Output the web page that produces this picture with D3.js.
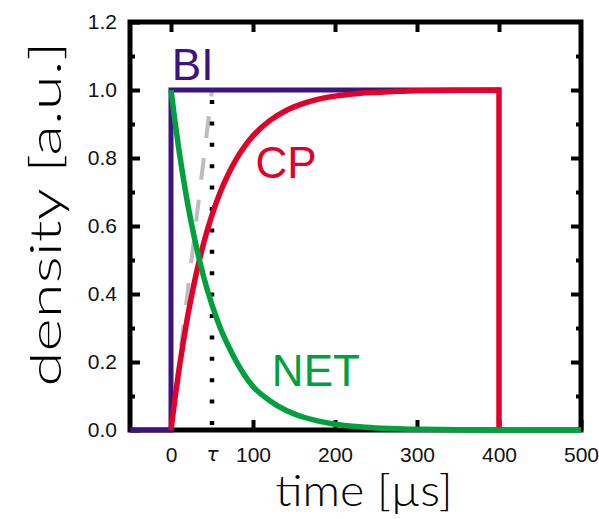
<!DOCTYPE html>
<html>
<head>
<meta charset="utf-8">
<script src="https://cdn.jsdelivr.net/npm/d3@7"></script>
<style>
  html, body { margin: 0; padding: 0; background: #fff; }
  svg { display: block; }
</style>
</head>
<body>
<svg id="chart" width="599" height="519"></svg>
<script>
// ---- data ----
const tau = 50;
const biTime  = [-50, 0, 0, 400];
const biValue = [0, 0, 1, 1];

const curveTime = [0, 5, 10, 15, 20, 25, 30, 35, 40, 50, 60, 70, 80, 90, 100, 120, 140, 160, 180, 200, 225, 250, 275, 300, 350, 400];
const cpValue   = [0, 0.095, 0.181, 0.259, 0.330, 0.393, 0.451, 0.503, 0.551, 0.632, 0.699, 0.753, 0.798, 0.835, 0.865, 0.909, 0.939, 0.959, 0.973, 0.982, 0.989, 0.993, 0.996, 0.998, 0.999, 1.0];
const cpDropTime  = [400, 400];
const cpDropValue = [1.0, 0];

const netTime  = [0, 5, 10, 15, 20, 25, 30, 35, 40, 50, 60, 70, 80, 90, 100, 120, 140, 160, 180, 200, 225, 250, 275, 300, 350, 400, 450, 500];
const netValue = [1, 0.905, 0.819, 0.741, 0.670, 0.607, 0.549, 0.497, 0.449, 0.368, 0.301, 0.247, 0.200, 0.160, 0.128, 0.087, 0.058, 0.039, 0.026, 0.017, 0.010, 0.006, 0.004, 0.002, 0.001, 0, 0, 0];

const tangentTime  = [0, tau];
const tangentValue = [0, 1];
const tauLineValue = [0, 1];

const xMajorTicks = [0, 100, 200, 300, 400, 500];
const xTopTicks   = [0, 100, 200, 300, 400];
const xLabelTicks = [0, tau, 100, 200, 300, 400, 500];
const yMajorTicks = [0, 0.2, 0.4, 0.6, 0.8, 1.0, 1.2];
const yMinorTicks = [0.1, 0.3, 0.5, 0.7, 0.9, 1.1];

const seriesLabels = [
  { name: "BI",  t: 1,   v: 1.03, color: "#3c1480" },
  { name: "CP",  t: 103, v: 0.74, color: "#e2002b" },
  { name: "NET", t: 123, v: 0.13, color: "#00a03c" }
];

// ---- layout ----
const svg = d3.select("#chart");
const x = d3.scaleLinear().domain([-50, 500]).range([130, 581]);
const y = d3.scaleLinear().domain([0, 1.2]).range([430, 22]);

const tickFont = "'Liberation Sans Narrow', 'Liberation Sans', Arial, sans-serif";

// frame
svg.append("rect")
  .attr("x", x(-50)).attr("y", y(1.2))
  .attr("width", x(500) - x(-50)).attr("height", y(0) - y(1.2))
  .attr("fill", "none").attr("stroke", "#000").attr("stroke-width", 5);

function styleTicks(g, w) {
  g.select(".domain").remove();
  g.selectAll(".tick line").attr("stroke", "#000").attr("stroke-width", w);
}

// bottom major ticks (inward)
svg.append("g").attr("transform", `translate(0,${y(0)})`)
  .call(d3.axisBottom(x).tickValues(xMajorTicks).tickSize(-10).tickFormat(""))
  .call(g => styleTicks(g, 4));
// bottom labels
svg.append("g").attr("transform", `translate(0,${y(0)})`)
  .call(d3.axisBottom(x).tickValues(xLabelTicks).tickSize(0).tickPadding(17)
        .tickFormat(d => d === tau ? "τ" : d3.format("d")(d)))
  .call(g => {
    g.select(".domain").remove();
    g.selectAll(".tick text").attr("font-family", tickFont).attr("font-size", 21).attr("fill", "#111");
    g.selectAll(".tick text").filter(d => d === tau)
      .attr("font-family", "'DejaVu Sans', sans-serif").attr("font-style", "italic").attr("font-size", 20);
  });
// top ticks
svg.append("g").attr("transform", `translate(0,${y(1.2)})`)
  .call(d3.axisTop(x).tickValues(xTopTicks).tickSize(-10).tickFormat(""))
  .call(g => styleTicks(g, 4));

// left major + labels
svg.append("g").attr("transform", `translate(${x(-50)},0)`)
  .call(d3.axisLeft(y).tickValues(yMajorTicks).tickSize(-10).tickPadding(13).tickFormat(d3.format(".1f")))
  .call(g => {
    styleTicks(g, 4);
    g.selectAll(".tick text").attr("font-family", tickFont).attr("font-size", 21).attr("fill", "#111");
  });
svg.append("g").attr("transform", `translate(${x(-50)},0)`)
  .call(d3.axisLeft(y).tickValues(yMinorTicks).tickSize(-5).tickFormat(""))
  .call(g => styleTicks(g, 4));
// right ticks
svg.append("g").attr("transform", `translate(${x(500)},0)`)
  .call(d3.axisRight(y).tickValues(yMajorTicks.filter(v => v > 0 && v < 1.2)).tickSize(-10).tickFormat(""))
  .call(g => styleTicks(g, 4));
svg.append("g").attr("transform", `translate(${x(500)},0)`)
  .call(d3.axisRight(y).tickValues(yMinorTicks).tickSize(-5).tickFormat(""))
  .call(g => styleTicks(g, 4));

const lin = d3.line().x(d => x(d[0])).y(d => y(d[1]));
const smooth = d3.line().x(d => x(d[0])).y(d => y(d[1])).curve(d3.curveMonotoneX);
const zip = (a, b) => a.map((v, i) => [v, b[i]]);

// tangent (gray dashed)
svg.append("path").attr("d", lin(zip(tangentTime, tangentValue)))
  .attr("fill", "none").attr("stroke", "#bdbdbd").attr("stroke-width", 4)
  .attr("stroke-dasharray", "22,20");

// tau dotted line
svg.append("path").attr("d", lin(zip([tau, tau], tauLineValue)))
  .attr("fill", "none").attr("stroke", "#000").attr("stroke-width", 4.5)
  .attr("stroke-dasharray", "4,17.4").attr("stroke-dashoffset", 16.4);

// BI
svg.append("path").attr("d", lin(zip(biTime, biValue)))
  .attr("fill", "none").attr("stroke", "#3c1480").attr("stroke-width", 5)
  .attr("stroke-linejoin", "miter");

// CP
svg.append("path")
  .attr("d", smooth(zip(curveTime, cpValue)) + lin(zip(cpDropTime, cpDropValue)).replace(/^M/, "L"))
  .attr("fill", "none").attr("stroke", "#e2002b").attr("stroke-width", 5.5)
  .attr("stroke-linejoin", "miter");

// NET
svg.append("path").attr("d", smooth(zip(netTime, netValue)))
  .attr("fill", "none").attr("stroke", "#00a03c").attr("stroke-width", 5.5);

// series labels
svg.selectAll("text.series").data(seriesLabels).enter().append("text")
  .attr("class", "series")
  .attr("x", d => x(d.t)).attr("y", d => y(d.v))
  .attr("font-family", "'Liberation Sans', Arial, sans-serif")
  .attr("font-size", 44)
  .attr("fill", d => d.color)
  .text(d => d.name);

// axis titles
svg.append("text")
  .attr("x", 364).attr("y", 506)
  .attr("text-anchor", "middle")
  .attr("font-family", "Lato, 'DejaVu Sans', sans-serif")
  .attr("font-weight", 300)
  .attr("font-size", 43)
  .attr("textLength", 177)
  .attr("lengthAdjust", "spacingAndGlyphs")
  .attr("fill", "#000")
  .text("time [µs]");

svg.append("text")
  .attr("transform", "translate(61,214) rotate(-90)")
  .attr("text-anchor", "middle")
  .attr("font-family", "Lato, 'DejaVu Sans', sans-serif")
  .attr("font-weight", 300)
  .attr("font-size", 43)
  .attr("textLength", 345)
  .attr("lengthAdjust", "spacingAndGlyphs")
  .attr("fill", "#000")
  .text("density [a.u.]");
</script>
</body>
</html>
